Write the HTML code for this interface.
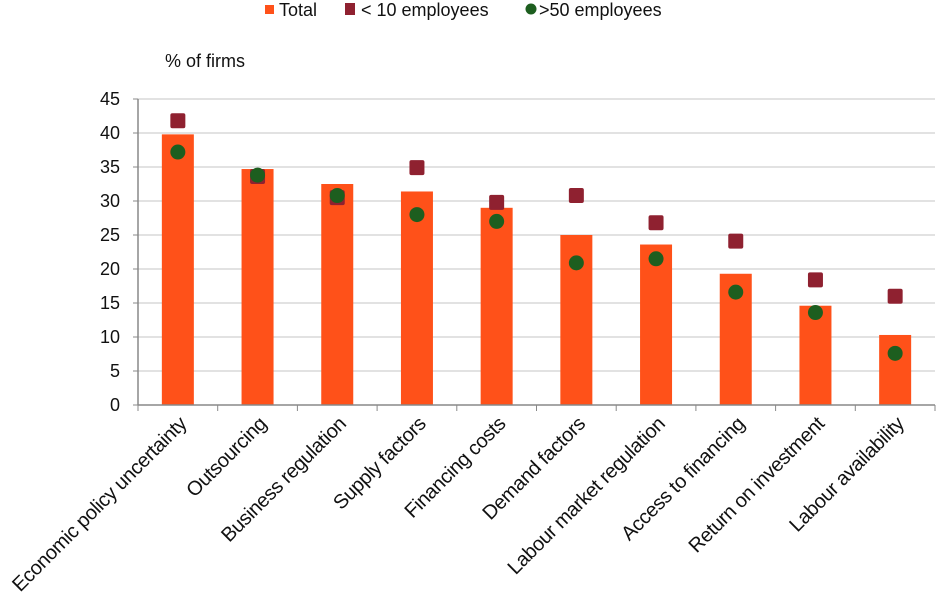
<!DOCTYPE html>
<html><head><meta charset="utf-8"><style>
body{margin:0;background:#fff;}
svg{display:block;font-family:"Liberation Sans",Arial,sans-serif;}
text{fill:#111;}
</style></head><body>
<svg id="chart" width="936" height="604" viewBox="0 0 936 604">
<g id="legend">
 <g><rect x="265" y="5" width="9" height="9" fill="#ff5119"/><text x="279" y="16" font-size="18">Total</text></g>
 <g><rect x="345" y="3" width="10" height="12" fill="#8f2130"/><text x="361" y="16" font-size="18">&lt; 10 employees</text></g>
 <g><circle cx="531" cy="9" r="5.5" fill="#1d5e1f"/><text x="539" y="16" font-size="18">&gt;50 employees</text></g>
</g>
<text x="165" y="67" font-size="18">% of firms</text>
<g id="grid"></g><g id="bars"></g><g id="marks"></g><g id="axes"></g>
</svg>
<script>
const categories=["Economic policy uncertainty","Outsourcing","Business regulation","Supply factors","Financing costs","Demand factors","Labour market regulation","Access to financing","Return on investment","Labour availability"];
const totalValues=[39.8,34.7,32.5,31.4,29.0,25.0,23.6,19.3,14.6,10.3];
const smallValues=[41.8,33.6,30.5,34.9,29.8,30.8,26.8,24.1,18.4,16.0];
const largeValues=[37.2,33.8,30.8,28.0,27.0,20.9,21.5,16.6,13.6,7.6];
const yTicks=[0,5,10,15,20,25,30,35,40,45];
const NS="http://www.w3.org/2000/svg";
const x0=138,x1=935,y0=405,yTop=99,yMax=45;
const band=(x1-x0)/categories.length;
const yS=v=>y0-(v/yMax)*(y0-yTop);
const xC=i=>x0+band*(i+0.5);
function mk(t,a,p){const e=document.createElementNS(NS,t);for(const k in a)e.setAttribute(k,a[k]);p.appendChild(e);return e;}
const grid=document.getElementById('grid'),bars=document.getElementById('bars'),marks=document.getElementById('marks'),axes=document.getElementById('axes');
yTicks.forEach(v=>{
 const y=yS(v);
 if(v>0){const l=mk('line',{x1:x0,x2:x1,y1:y,y2:y,stroke:'#c4c4c4','stroke-width':1},grid);
 
 }
 const tk=mk('line',{x1:x0-5,x2:x0,y1:y,y2:y,stroke:'#888'},axes);
 
 
 const t=mk('text',{x:x0-18,y:y+6,'font-size':18,'text-anchor':'end'},axes);t.textContent=v;
 
 
});
categories.forEach((c,i)=>{
 const cx=xC(i);
 const b=mk('rect',{x:cx-16,y:yS(totalValues[i]),width:32,height:y0-yS(totalValues[i]),fill:'#ff5119'},bars);
 
 
 const s=mk('rect',{x:cx-7.5,y:yS(smallValues[i])-7.5,width:15,height:15,rx:2,fill:'#8f2130'},marks);
 
 
 const g=mk('circle',{cx:cx,cy:yS(largeValues[i]),r:7.5,fill:'#1d5e1f'},marks);
 
 
 const t=mk('text',{x:0,y:0,'font-size':20,'letter-spacing':'-0.4','text-anchor':'end',transform:`translate(${cx+10},${y0+20}) rotate(-45)`},axes);
 t.textContent=c;
 
 
});
for(let i=0;i<=categories.length;i++){
 const x=x0+band*i;
 const tk=mk('line',{x1:x,x2:x,y1:y0,y2:y0+6,stroke:'#888'},axes);
 
 
}
const ya=mk('line',{x1:x0,x2:x0,y1:yTop,y2:y0,stroke:'#888','stroke-width':1.5},axes);


const xa=mk('line',{x1:x0,x2:x1,y1:y0,y2:y0,stroke:'#888','stroke-width':1.5},axes);


</script>
</body></html>
